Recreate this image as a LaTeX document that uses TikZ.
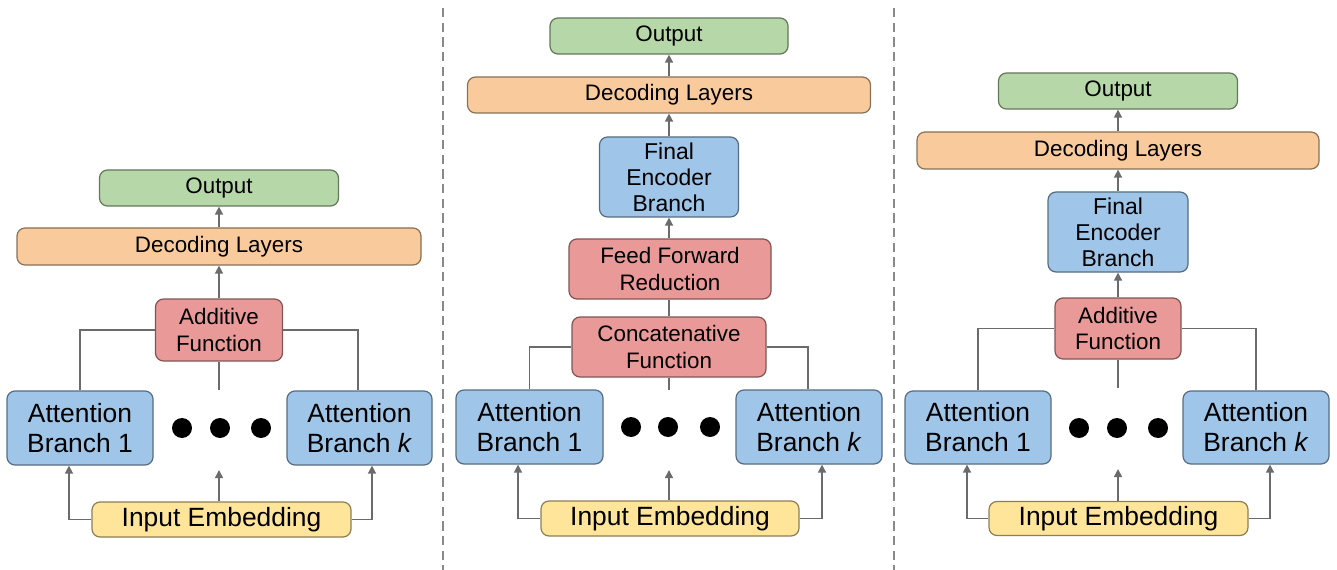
\documentclass[tikz,border=0pt]{standalone}
\usepackage{fontspec}
\setmainfont{Liberation Sans}
\usetikzlibrary{arrows.meta}

\definecolor{cOut}{HTML}{B6D7A8}
\definecolor{cDec}{HTML}{F9CB9C}
\definecolor{cFun}{HTML}{EA9999}
\definecolor{cEnc}{HTML}{9FC5E8}
\definecolor{cIn}{HTML}{FFE599}
\definecolor{cLine}{HTML}{6B6B6B}

\tikzset{
  box/.style={draw=#1!55!black, fill=#1, rounded corners=6pt, line width=0.9pt,
              align=center, inner sep=0pt, text=black},
  sz/.style 2 args={minimum width=#1*0.75pt, minimum height=#2*0.75pt},
  outbox/.style={box=cOut, font=\fontsize{16.8}{19}\selectfont},
  decbox/.style={box=cDec, font=\fontsize{16.8}{19}\selectfont},
  funbox/.style={box=cFun, font=\fontsize{16.8}{20}\selectfont},
  encbox/.style={box=cEnc, font=\fontsize{17.2}{19.5}\selectfont},
  attbox/.style={box=cEnc, font=\fontsize{19.8}{22.5}\selectfont},
  inbox/.style={box=cIn, font=\fontsize{19.8}{22}\selectfont},
  dotmark/.style={circle, fill=black, inner sep=0pt, minimum size=15pt},
  link/.style={draw=cLine, line width=1.1pt},
  arr/.style={link, -{Triangle[length=6pt,width=6pt]}},
  sep/.style={draw=cLine!80, line width=1pt, dash pattern=on 7pt off 4pt}
}

\begin{document}
\begin{tikzpicture}[x=0.75pt, y=-0.75pt]
\useasboundingbox (0,0) rectangle (1337,570);

% separators between the three variants
\draw[sep] (443,8) -- (443,570);
\draw[sep] (894,8) -- (894,570);

% ---------------- variant 1: additive ----------------
\node[outbox, sz={239}{36}] (out1) at (219,188) {Output};
\node[decbox, sz={404}{37}] (dec1) at (219,246.5) {Decoding Layers};
\node[funbox, sz={127}{62}] (add1) at (219,330) {Additive\\Function};
\node[attbox, sz={146}{74}] (ab1a) at (80,428) {Attention\\Branch 1};
\node[attbox, sz={145}{74}] (ab1k) at (359.5,428) {Attention\\Branch \textit{k}};
\node[inbox, sz={259}{35}] (in1) at (221.5,519.5) {Input Embedding};
\node[dotmark] (d1a) at (182,428) {};
\node[dotmark] (d1b) at (220,428) {};
\node[dotmark] (d1c) at (261,428) {};
\coordinate (l1) at (69,0);
\coordinate (r1) at (372,0);
\coordinate (m1) at (219,470);
\coordinate (s1) at (219,390);

\draw[arr] (dec1.north) -- (out1.south);
\draw[arr] (add1.north) -- (dec1.south);
\draw[link] (ab1a.north) |- (add1.west);
\draw[link] (ab1k.north -| 358,0) |- (add1.east);
\draw[link] (add1.south) -- (s1);
\draw[arr] (in1.west) -| (ab1a.south -| l1);
\draw[arr] (in1.east) -| (ab1k.south -| r1);
\draw[arr] (in1.north -| m1) -- (m1);

% ---------------- variant 2: concatenative ----------------
\node[outbox, sz={238}{36}] (out2) at (669,36) {Output};
\node[decbox, sz={403}{36}] (dec2) at (669,95) {Decoding Layers};
\node[encbox, sz={139}{80}] (fin2) at (669,177) {Final\\Encoder\\Branch};
\node[funbox, sz={202}{60}] (ffr2) at (670,269) {Feed Forward\\Reduction};
\node[funbox, sz={194}{60}] (cat2) at (669,347) {Concatenative\\Function};
\node[attbox, sz={147}{74}] (ab2a) at (529.5,427) {Attention\\Branch 1};
\node[attbox, sz={146}{74}] (ab2k) at (809,427) {Attention\\Branch \textit{k}};
\node[inbox, sz={258}{35}] (in2) at (670,518.5) {Input Embedding};
\node[dotmark] (d2a) at (631,427) {};
\node[dotmark] (d2b) at (668,427) {};
\node[dotmark] (d2c) at (710,427) {};
\coordinate (l2) at (518,0);
\coordinate (r2) at (822,0);
\coordinate (m2) at (669,470);
\coordinate (s2) at (669,390);

\draw[arr] (dec2.north) -- (out2.south);
\draw[arr] (fin2.north) -- (dec2.south);
\draw[arr] (ffr2.north -| fin2.south) -- (fin2.south);
\draw[link] (cat2.north) -- (cat2.north |- ffr2.south);
\draw[link] (ab2a.north) |- (cat2.west);
\draw[link] (ab2k.north -| 808,0) |- (cat2.east);
\draw[link] (cat2.south) -- (s2);
\draw[arr] (in2.west) -| (ab2a.south -| l2);
\draw[arr] (in2.east) -| (ab2k.south -| r2);
\draw[arr] (in2.north -| m2) -- (m2);

% ---------------- variant 3: additive + final encoder ----------------
\node[outbox, sz={239}{36}] (out3) at (1118,91) {Output};
\node[decbox, sz={402}{37}] (dec3) at (1118,150.5) {Decoding Layers};
\node[encbox, sz={140}{80}] (fin3) at (1118,232) {Final\\Encoder\\Branch};
\node[funbox, sz={126}{61}] (add3) at (1118,328.5) {Additive\\Function};
\node[attbox, sz={146}{73}] (ab3a) at (978,427.5) {Attention\\Branch 1};
\node[attbox, sz={146}{73}] (ab3k) at (1256,427.5) {Attention\\Branch \textit{k}};
\node[inbox, sz={259}{34}] (in3) at (1118.5,518.5) {Input Embedding};
\node[dotmark] (d3a) at (1079,428) {};
\node[dotmark] (d3b) at (1117,428) {};
\node[dotmark] (d3c) at (1158,428) {};
\coordinate (l3) at (967,0);
\coordinate (r3) at (1270,0);
\coordinate (m3) at (1118,469);
\coordinate (s3) at (1118,388);

\draw[arr] (dec3.north) -- (out3.south);
\draw[arr] (fin3.north) -- (dec3.south);
\draw[arr] (add3.north) -- (fin3.south);
\draw[link] (ab3a.north) |- (add3.west);
\draw[link] (ab3k.north) |- (add3.east);
\draw[link] (add3.south) -- (s3);
\draw[arr] (in3.west) -| (ab3a.south -| l3);
\draw[arr] (in3.east) -| (ab3k.south -| r3);
\draw[arr] (in3.north -| m3) -- (m3);
\end{tikzpicture}
\end{document}
